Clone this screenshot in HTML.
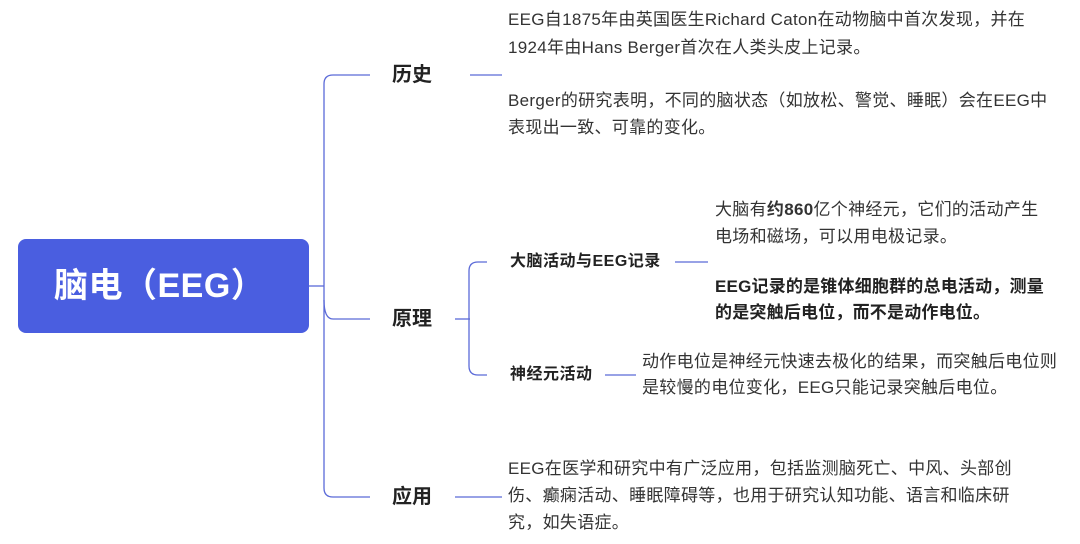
<!DOCTYPE html>
<html><head><meta charset="utf-8"><style>
body{margin:0;width:1080px;height:544px;background:#fff;position:relative;overflow:hidden;font-family:"Liberation Sans","Noto Sans CJK SC",sans-serif;}
.t{position:absolute;white-space:nowrap;font-size:17px;letter-spacing:0.3px;color:#333;line-height:20px;}
.b{font-weight:bold;color:#222;letter-spacing:0.2px;}
.h{position:absolute;white-space:nowrap;font-size:20px;font-weight:bold;color:#222;line-height:24px;}
.s{position:absolute;white-space:nowrap;font-size:16px;letter-spacing:0.5px;font-weight:bold;color:#222;line-height:20px;}
</style></head><body>
<div style="position:absolute;left:18px;top:239px;width:291px;height:94px;background:#4a5ee0;border-radius:8px;"></div>
<div style="position:absolute;left:54px;top:265px;font-size:34px;letter-spacing:0.5px;font-weight:bold;color:#fff;line-height:42px;white-space:nowrap;">脑电（EEG）</div>
<svg width="1080" height="544" style="position:absolute;left:0;top:0" fill="none" stroke="#5b6ad8" stroke-width="1.3">
<path d="M309 286H324"/>
<path d="M370 75H333Q324 75 324 84V488Q324 497 333 497H370"/>
<path d="M324 300Q324 319 333 319H370"/>
<path d="M470 75H502"/>
<path d="M455 319H470"/>
<path d="M455 497H502"/>
<path d="M487 262H478Q469 262 469 271V366Q469 375 478 375H487"/>
<path d="M675 262H708"/>
<path d="M605 375H636"/>
</svg>
<div class="h" style="left:392px;top:63px">历史</div>
<div class="h" style="left:392px;top:307px">原理</div>
<div class="h" style="left:392px;top:485px">应用</div>
<div class="s" style="left:510px;top:252px">大脑活动与EEG记录</div>
<div class="s" style="left:510px;top:365px">神经元活动</div>
<div class="t" style="left:508px;top:10px">EEG自1875年由英国医生Richard Caton在动物脑中首次发现，并在</div>
<div class="t" style="left:508px;top:38px">1924年由Hans Berger首次在人类头皮上记录。</div>
<div class="t" style="left:508px;top:91px">Berger的研究表明，不同的脑状态（如放松、警觉、睡眠）会在EEG中</div>
<div class="t" style="left:508px;top:118px">表现出一致、可靠的变化。</div>
<div class="t" style="left:715px;top:200px">大脑有<b>约860</b>亿个神经元，它们的活动产生</div>
<div class="t" style="left:715px;top:227px">电场和磁场，可以用电极记录。</div>
<div class="t b" style="left:715px;top:277px">EEG记录的是锥体细胞群的总电活动，测量</div>
<div class="t b" style="left:715px;top:303px">的是突触后电位，而不是动作电位。</div>
<div class="t" style="left:642px;top:352px">动作电位是神经元快速去极化的结果，而突触后电位则</div>
<div class="t" style="left:642px;top:378px">是较慢的电位变化，EEG只能记录突触后电位。</div>
<div class="t" style="left:508px;top:459px">EEG在医学和研究中有广泛应用，包括监测脑死亡、中风、头部创</div>
<div class="t" style="left:508px;top:486px">伤、癫痫活动、睡眠障碍等，也用于研究认知功能、语言和临床研</div>
<div class="t" style="left:508px;top:513px">究，如失语症。</div>
</body></html>
